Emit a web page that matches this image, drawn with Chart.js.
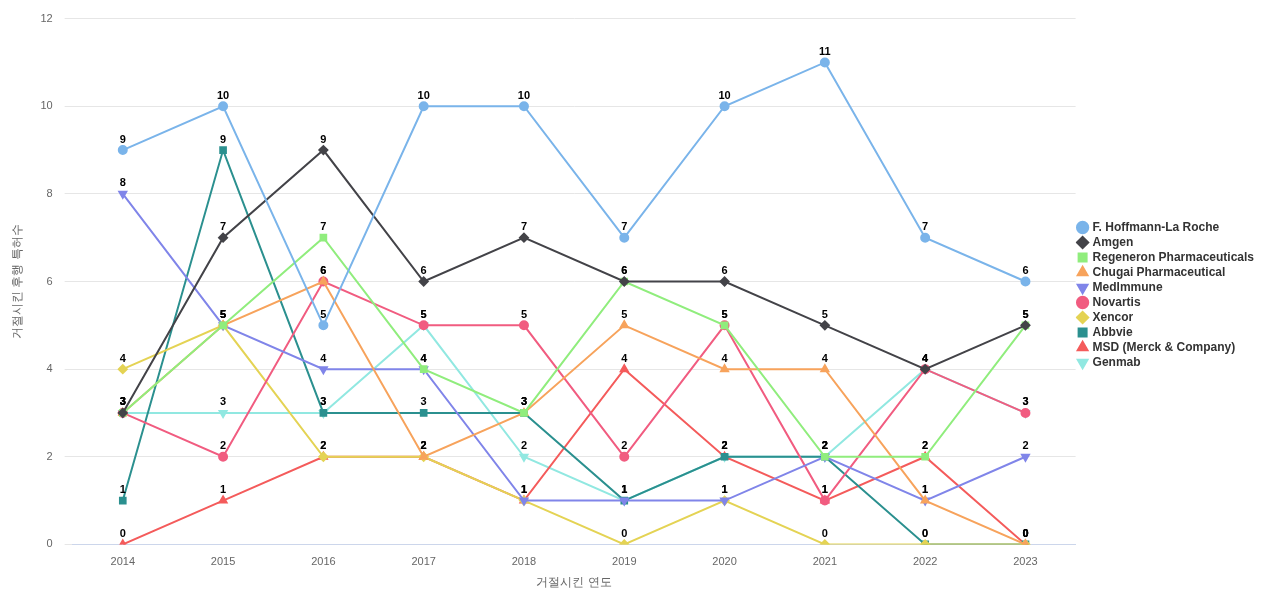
<!DOCTYPE html>
<html>
<head>
<meta charset="utf-8">
<script src="https://cdn.jsdelivr.net/npm/chart.js@4"></script>
<style>
  body { margin: 0; background: #fff; }
  #wrap { width: 1280px; height: 600px; }
</style>
</head>
<body>
<div id="wrap"><canvas id="chart"></canvas></div>
<script>
var years = [ '2014', '2015', '2016', '2017', '2018', '2019', '2020', '2021', '2022', '2023' ];

var roche     = [ 9, 10, 5, 10, 10, 7, 10, 11, 7, 6 ];
var amgen     = [ 3, 7, 9, 6, 7, 6, 6, 5, 4, 5 ];
var regeneron = [ 3, 5, 7, 4, 3, 6, 5, 2, 2, 5 ];
var chugai    = [ 3, 5, 6, 2, 3, 5, 4, 4, 1, 0 ];
var medimmune = [ 8, 5, 4, 4, 1, 1, 1, 2, 1, 2 ];
var novartis  = [ 3, 2, 6, 5, 5, 2, 5, 1, 4, 3 ];
var xencor    = [ 4, 5, 2, 2, 1, 0, 1, 0, 0, 0 ];
var abbvie    = [ 1, 9, 3, 3, 3, 1, 2, 2, 0, 0 ];
var msd       = [ 0, 1, 2, 2, 1, 4, 2, 1, 2, 0 ];
var genmab    = [ 3, 3, 3, 5, 2, 1, 2, 2, 4, 3 ];

function series( label, data, color, style, rot ) {
	return {
		label: label,
		data: data,
		borderColor: color,
		backgroundColor: color,
		pointStyle: style,
		pointRotation: rot || 0,
		pointRadius: 4,
		borderWidth: 2,
		tension: 0
	};
}

// Value labels above every point.
var valueLabels = {
	id: 'valueLabels',
	afterDatasetsDraw: function ( chart ) {
		var ctx = chart.ctx;
		ctx.save();
		ctx.font = 'bold 11px "Liberation Sans", Arial, sans-serif';
		ctx.fillStyle = '#000';
		ctx.textAlign = 'center';
		ctx.textBaseline = 'bottom';
		chart.data.datasets.forEach( function ( ds, i ) {
			chart.getDatasetMeta( i ).data.forEach( function ( pt, j ) {
				ctx.fillText( ds.data[ j ], pt.x, pt.y - 5 );
			} );
		} );
		ctx.restore();
	}
};

new Chart( document.getElementById( 'chart' ), {
	type: 'line',
	data: {
		labels: years,
		datasets: [
			series( 'F. Hoffmann-La Roche', roche, '#7ab4ea', 'circle' ),
			series( 'Amgen', amgen, '#434348', 'rectRot' ),
			series( 'Regeneron Pharmaceuticals', regeneron, '#90ed7d', 'rect' ),
			series( 'Chugai Pharmaceutical', chugai, '#f7a35c', 'triangle' ),
			series( 'MedImmune', medimmune, '#8085e9', 'triangle', 180 ),
			series( 'Novartis', novartis, '#f15c80', 'circle' ),
			series( 'Xencor', xencor, '#e4d354', 'rectRot' ),
			series( 'Abbvie', abbvie, '#2b908f', 'rect' ),
			series( 'MSD (Merck & Company)', msd, '#f45b5b', 'triangle' ),
			series( 'Genmab', genmab, '#91e8e1', 'triangle', 180 )
		]
	},
	options: {
		responsive: true,
		maintainAspectRatio: false,
		animation: false,
		layout: { padding: { left: 6, right: 16, top: -4, bottom: 6 } },
		plugins: {
			legend: {
				position: 'right',
				align: 'center',
				labels: {
					usePointStyle: true,
					boxWidth: 8,
					boxHeight: 8,
					padding: 3,
					color: '#333',
					font: { family: '"Liberation Sans", Arial, sans-serif', size: 12, weight: 'bold' }
				}
			},
			tooltip: { enabled: false }
		},
		scales: {
			x: {
				offset: true,
				grid: { display: false },
				border: { color: '#ccd6eb' },
				ticks: { color: '#666', font: { size: 11 } },
				title: { display: true, text: '거절시킨 연도', color: '#666', font: { size: 12 } }
			},
			y: {
				min: 0,
				max: 12,
				ticks: { stepSize: 2, color: '#666', font: { size: 11 }, padding: 12 },
				grid: { color: '#e6e6e6' },
				border: { display: false },
				title: { display: true, text: '거절시킨 후행 특허수', color: '#666', font: { size: 12 } }
			}
		}
	},
	plugins: [ valueLabels ]
} );
</script>
</body>
</html>
